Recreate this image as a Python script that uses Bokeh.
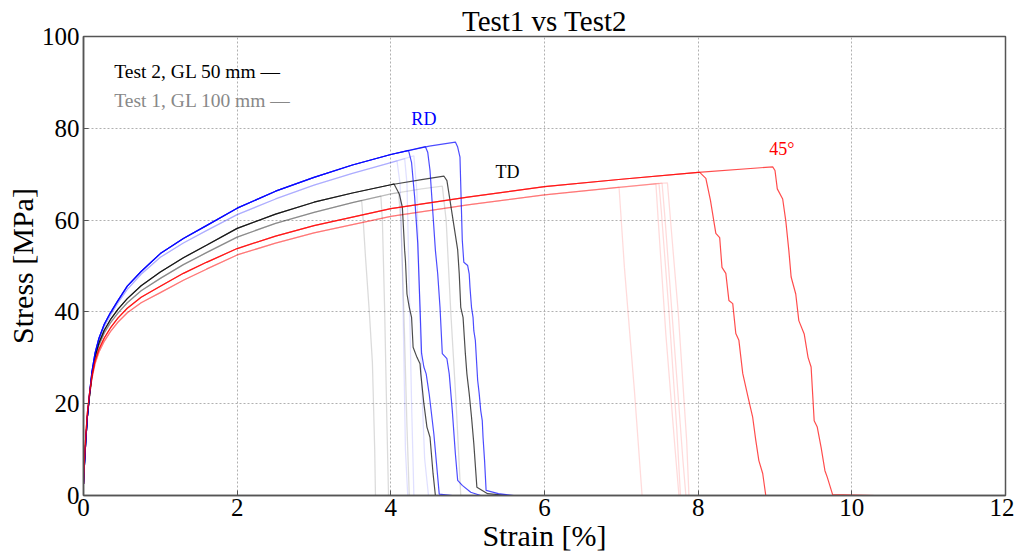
from bokeh.plotting import figure
from bokeh.models import Range1d, FixedTicker
from bokeh.embed import file_html
from bokeh.resources import INLINE
from bokeh.core.properties import value

# ---------------- data (strain %, stress MPa) ----------------
X_TICKS = [0, 2, 4, 6, 8, 10, 12]
Y_TICKS = [0, 20, 40, 60, 80, 100]

# shared strain stations for the hardening parts
RISE_X = [0, 0.01, 0.03, 0.05, 0.08, 0.11, 0.15, 0.2, 0.27, 0.35, 0.45, 0.57, 0.75,
          1.0, 1.3, 1.6, 2.0, 2.5, 3.0, 3.5, 4.0]

# RD, Test 2 (blue)
RD2_RISE_X = RISE_X + [4.5, 4.85]
RD2_RISE_Y = [2.5, 6, 12, 17, 22.5, 27, 31, 34.2, 37.3, 39.8, 42.5, 45.6, 48.8,
              52.7, 56.0, 58.8, 62.6, 66.3, 69.3, 72.0, 74.3, 76.1, 77.0]
RD2_DROPS = [
    ([4.23, 4.27, 4.31, 4.35, 4.38, 4.40, 4.43, 4.46, 4.50, 4.56, 4.63, 4.80],
     [75.2, 72.5, 65.0, 55.0, 41.0, 31.0, 28.0, 26.5, 22.0, 13.4, 0.3, 0.0]),
    ([4.45, 4.48, 4.51, 4.58, 4.61, 4.64, 4.67, 4.73, 4.76, 4.80, 4.84, 4.87, 4.93, 5.04, 5.17],
     [76.0, 74.8, 70.8, 53.4, 48.3, 41.0, 30.9, 29.8, 26.5, 18.5, 9.1, 3.3, 2.2, 0.7, 0.0]),
    ([4.84, 4.87, 4.90, 4.93, 4.95, 5.00, 5.02, 5.03, 5.05, 5.07, 5.08, 5.10, 5.12, 5.13,
      5.15, 5.17, 5.19, 5.20, 5.22, 5.24, 5.40, 5.60],
     [77.0, 75.9, 73.7, 55.6, 50.8, 50.1, 48.3, 45.4, 41.0, 38.8, 35.9, 33.8, 28.0, 25.1,
      22.2, 18.5, 16.3, 12.7, 7.6, 1.1, 0.4, 0.0]),
]

# RD, Test 1 (pale blue)
RD1_RISE_X = RISE_X + [4.3]
RD1_RISE_Y = [2.5, 6, 12, 17, 22, 26.5, 30.5, 33.8, 36.8, 39.3, 42.0, 44.9, 48.2,
              51.9, 55.0, 57.7, 61.2, 64.6, 67.6, 70.2, 72.5, 74.0]
RD1_DROPS = [
    ([4.08, 4.12, 4.15, 4.17, 4.19, 4.22], [72.9, 68, 50, 30, 10, 0]),
    ([4.18, 4.21, 4.24, 4.27, 4.30], [73.4, 68, 45, 20, 0]),
    ([4.30, 4.34, 4.37, 4.40, 4.44, 4.49], [74.0, 66, 45, 25, 8, 0]),
]

# TD, Test 2 (black)
TD2_RISE_X = RISE_X + [4.4, 4.7]
TD2_RISE_Y = [2.5, 6, 12, 17, 22, 26.5, 30.3, 33.2, 36.0, 38.3, 40.6, 42.9, 45.7,
              48.7, 51.8, 54.5, 58.2, 61.3, 63.9, 65.9, 67.7, 68.8, 69.6]
TD2_DROPS = [
    ([4.04, 4.11, 4.15, 4.18, 4.19, 4.21, 4.24, 4.27, 4.29, 4.34, 4.38, 4.39, 4.43, 4.47,
      4.51, 4.55, 4.58, 5.01],
     [67.9, 65.7, 62.8, 53.4, 51.2, 43.9, 41.0, 38.8, 32.3, 30.1, 28.7, 26.5, 20.0, 14.9,
      12.7, 4.7, 0.0, 0.0]),
    ([4.69, 4.73, 4.76, 4.87, 4.89, 4.91, 4.94, 4.97, 4.99, 5.02, 5.05, 5.08, 5.12, 5.26, 5.52],
     [69.6, 68.6, 65.4, 53.5, 48.4, 41.0, 38.8, 30.9, 26.5, 22.2, 17.1, 11.3, 1.8, 0.4, 0.0]),
]

# TD, Test 1 (grey)
TD1_RISE_X = RISE_X + [4.4, 4.7]
TD1_RISE_Y = [2.5, 6, 12, 17, 21.8, 26, 29.8, 32.7, 35.4, 37.6, 39.8, 42.0, 44.6,
              47.3, 50.3, 52.9, 56.3, 59.3, 61.7, 63.8, 65.7, 66.8, 67.5]
TD1_DROPS = [
    ([3.62, 3.64, 3.67, 3.72, 3.76, 3.79, 3.80], [64.3, 60, 52, 40, 29, 10, 0]),
    ([3.87, 3.89, 3.92, 3.95, 3.97], [65.2, 60, 40, 15, 0]),
    ([4.10, 4.13, 4.17, 4.21, 4.24], [66.0, 60, 40, 15, 0]),
    ([4.67, 4.72, 4.78, 4.85, 4.91], [67.4, 60, 40, 20, 0]),
]

# 45 deg, Test 2 (red)
D45_2_RISE_X = RISE_X[:19] + [4.0, 5.0, 6.0, 7.0, 8.0, 8.97]
D45_2_RISE_Y = [2.5, 7, 13, 18, 22.5, 26, 29.3, 31.8, 34.3, 36.5, 38.7, 40.8, 43.2,
                45.6, 48.4, 50.8, 53.8, 56.5, 58.8, 62.5, 65.0, 67.3, 68.9, 70.4, 71.6]
D45_2_DROPS = [
    ([8.02, 8.10, 8.16, 8.23, 8.28, 8.31, 8.36, 8.40, 8.45, 8.49, 8.53, 8.58, 8.65, 8.71,
      8.75, 8.79, 8.84, 8.88, 9.20],
     [70.4, 69.1, 64.3, 57.1, 56.2, 49.7, 48.4, 42.5, 41.8, 35.3, 33.8, 26.6, 21.4, 17.0,
      12.0, 7.6, 4.8, 0.0, 0.0]),
    ([8.97, 9.00, 9.03, 9.10, 9.14, 9.18, 9.21, 9.27, 9.31, 9.38, 9.43, 9.47, 9.51, 9.55,
      9.60, 9.65, 9.68, 9.75, 10.30],
     [71.6, 70.8, 66.8, 64.6, 59.9, 53.4, 47.6, 43.9, 38.1, 35.2, 30.1, 28.0, 16.3, 14.9,
      10.5, 5.4, 4.0, 0.2, 0.0]),
]

# 45 deg, Test 1 (pale red)
D45_1_RISE_X = RISE_X[:19] + [4.0, 5.0, 6.0, 7.0, 7.5, 7.6]
D45_1_RISE_Y = [2.5, 7, 13, 17.5, 22, 25.5, 28.7, 31.2, 33.6, 35.7, 37.8, 39.8, 42.0,
                44.2, 46.9, 49.3, 52.4, 55.0, 57.2, 60.8, 63.3, 65.5, 67.2, 68.0, 68.1]
D45_1_DROPS = [
    ([6.97, 7.04, 7.17, 7.27], [67.2, 49.7, 22.9, 0]),
    ([7.45, 7.48, 7.58, 7.70, 7.75], [67.9, 60, 35, 10, 0]),
    ([7.49, 7.52, 7.62, 7.72, 7.77], [68.0, 62, 40, 15, 0]),
    ([7.53, 7.57, 7.68, 7.80, 7.84], [68.05, 60, 35, 8, 0]),
    ([7.60, 7.65, 7.74, 7.85, 7.88], [68.1, 58, 40, 12, 0]),
]

LABELS = ["RD", "TD", "45°"]
LABEL_X = [4.43, 5.52, 9.09]
LABEL_Y = [82.1, 70.4, 75.4]
LEGEND_TEXT = ["Test 2, GL 50 mm —", "Test 1, GL 100 mm —"]

SERIF = "Liberation Serif"

# ---------------- figure ----------------
p = figure(width=1014, height=556, output_backend="svg", toolbar_location=None,
           x_range=Range1d(0, 12), y_range=Range1d(0, 100),
           min_border_left=83, min_border_right=9, min_border_top=36, min_border_bottom=61,
           title="Test1 vs Test2")
p.background_fill_color = "white"
p.border_fill_color = "white"
p.outline_line_color = "#555555"
p.outline_line_width = 1.5

p.title.align = "center"
p.title.text_font = SERIF
p.title.text_font_size = "29px"
p.title.text_font_style = "normal"
p.title.text_color = "black"
p.title.offset = 0
p.title.standoff = 0

for ax in (p.xaxis[0], p.yaxis[0]):
    ax.axis_line_color = "#555555"
    ax.axis_line_width = 1.5
    ax.major_tick_line_color = "#555555"
    ax.major_tick_in = 5
    ax.major_tick_out = 0
    ax.minor_tick_line_color = None
    ax.major_label_text_font = SERIF
    ax.major_label_text_font_size = "25px"
    ax.major_label_text_color = "black"
    ax.axis_label_text_font = SERIF
    ax.axis_label_text_font_style = "normal"
    ax.axis_label_text_color = "black"

p.xaxis.axis_label_text_font_size = "30px"
p.yaxis.axis_label_text_font_size = "30px"
p.xaxis.ticker = FixedTicker(ticks=X_TICKS)
p.yaxis.ticker = FixedTicker(ticks=Y_TICKS)
p.xaxis.axis_label = "Strain [%]"
p.yaxis.axis_label = "Stress [MPa]"
p.xaxis.major_label_standoff = 3
p.yaxis.major_label_standoff = 4
p.xaxis.axis_label_standoff = 0
p.yaxis.axis_label_standoff = 0

p.xgrid.ticker = FixedTicker(ticks=X_TICKS)
p.ygrid.ticker = FixedTicker(ticks=Y_TICKS)
for g in (p.xgrid[0], p.ygrid[0]):
    g.grid_line_color = "#b0b0b0"
    g.grid_line_dash = "2 2"
    g.grid_line_width = 1


def draw(rise_x, rise_y, drops, color, alpha, width):
    for dx, dy in drops:
        xs = [x for x in rise_x if x < dx[0]] + list(dx)
        ys = [y for x, y in zip(rise_x, rise_y) if x < dx[0]] + list(dy)
        p.line(xs, ys, line_color=color, line_alpha=alpha, line_width=width)


draw(TD1_RISE_X, TD1_RISE_Y, TD1_DROPS, "black", 0.14, 1.3)
draw(RD1_RISE_X, RD1_RISE_Y, RD1_DROPS, "blue", 0.12, 1.3)
draw(D45_1_RISE_X, D45_1_RISE_Y, D45_1_DROPS, "red", 0.14, 1.3)
draw(TD2_RISE_X, TD2_RISE_Y, TD2_DROPS, "black", 0.7, 1.2)
draw(RD2_RISE_X, RD2_RISE_Y, RD2_DROPS, "blue", 0.7, 1.2)
draw(D45_2_RISE_X, D45_2_RISE_Y, D45_2_DROPS, "red", 0.7, 1.2)

p.text(x=LABEL_X, y=LABEL_Y, text=LABELS, text_color=["blue", "black", "red"],
       text_font=value(SERIF), text_font_size="18px", text_align="center",
       text_baseline="middle")
p.text(x=[0.40, 0.40], y=[92.4, 86.1], text=LEGEND_TEXT, text_color=["black", "#888888"],
       text_font=value(SERIF), text_font_size="19.5px", text_align="left",
       text_baseline="middle")

open("out.html", "w").write(file_html(p, INLINE))
